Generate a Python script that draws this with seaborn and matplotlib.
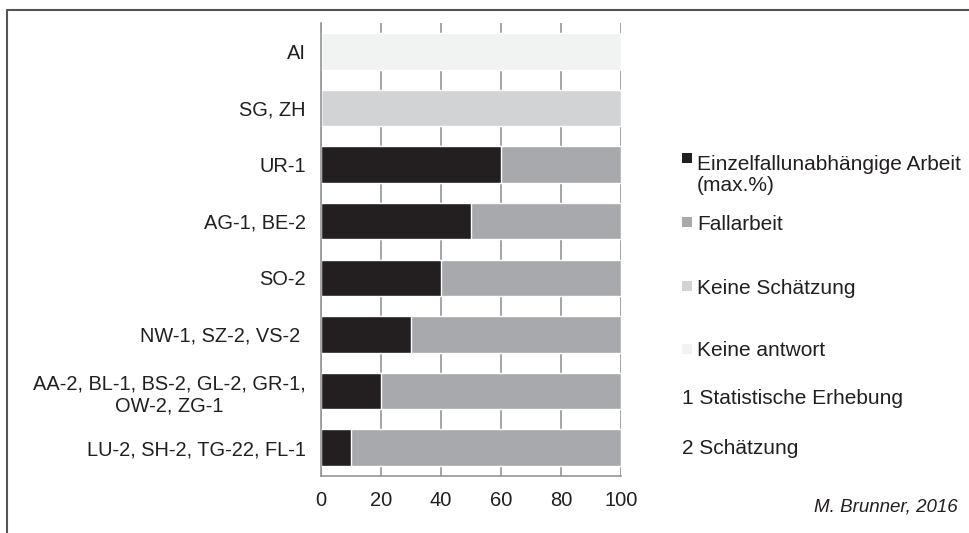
import numpy as np
import pandas as pd
import matplotlib
matplotlib.use('Agg')
import matplotlib.pyplot as plt
import seaborn as sns
from matplotlib.patches import Rectangle
from matplotlib.lines import Line2D

# data
categories = ['AI', 'SG, ZH', 'UR-1', 'AG-1, BE-2', 'SO-2', 'NW-1, SZ-2, VS-2 ',
              'AA-2, BL-1, BS-2, GL-2, GR-1,\nOW-2, ZG-1', 'LU-2, SH-2, TG-22, FL-1']
einzelfall = [0, 0, 60, 50, 40, 30, 20, 10]
fallarbeit = [0, 0, 40, 50, 60, 70, 80, 90]
keine_schaetzung = [0, 100, 0, 0, 0, 0, 0, 0]
keine_antwort = [100, 0, 0, 0, 0, 0, 0, 0]
legend_labels = ['Einzelfallunabhängige Arbeit\n(max.%)', 'Fallarbeit', 'Keine Schätzung', 'Keine antwort']
notes = ['1 Statistische Erhebung', '2 Schätzung']
source = 'M. Brunner, 2016'
xticks = [0, 20, 40, 60, 80, 100]

colors = ['#231f20', '#a7a9ac', '#d1d3d4', '#f1f2f2']

sns.set_style('white')
plt.rcParams['font.family'] = ['Liberation Sans', 'DejaVu Sans']
plt.rcParams['text.color'] = '#231f20'

df = pd.DataFrame({'Kanton': categories,
                   'einzel': einzelfall,
                   'stack': np.array(einzelfall) + np.array(fallarbeit),
                   'schaetzung': keine_schaetzung,
                   'antwort': keine_antwort})

W, H = 970, 533
fig = plt.figure(figsize=(W / 100, H / 100), dpi=100)
ax = fig.add_axes([321 / W, 1 - 476 / H, 300 / W, 453 / H])

bw = 0.645
# stacked bars: draw totals first, then overlay the black part
for col, c in [('stack', colors[1]), ('schaetzung', colors[2]),
               ('antwort', colors[3]), ('einzel', colors[0])]:
    sns.barplot(data=df, x=col, y='Kanton', order=categories, orient='h', color=c,
                saturation=1, width=bw, errorbar=None, ax=ax)

ax.set_xlim(0, 100)
ax.set_ylim(len(categories) - 0.5, -0.5)
ax.set_xticks(xticks)
ax.set_xlabel('')
ax.set_ylabel('')
ax.set_axisbelow(True)
ax.xaxis.grid(True, color='#939598', lw=1.2)
for s in ['top', 'right']:
    ax.spines[s].set_visible(False)
for s in ['left', 'bottom']:
    ax.spines[s].set_color('#939598')
    ax.spines[s].set_linewidth(1.2)
ax.tick_params(axis='x', length=0, pad=11, labelsize=14.5, labelcolor='#231f20')
ax.tick_params(axis='y', length=0, pad=11, labelsize=14.4, labelcolor='#231f20')
for lbl in ax.get_yticklabels():
    if '\n' in lbl.get_text():
        lbl.set_multialignment('center')

# legend drawn by hand to keep the uneven spacing of the original
def fx(px):
    return px / W

def fy(py):
    return 1 - py / H

marker_y = [158, 222, 286, 349]
text_y = [175, 224, 288, 351]
for lab, c, my, ty in zip(legend_labels, colors, marker_y, text_y):
    fig.add_artist(Rectangle((fx(682), fy(my + 5)), 10 / W, 10 / H, transform=fig.transFigure,
                             facecolor=c, edgecolor='none'))
    fig.text(fx(697), fy(ty), lab, fontsize=15, va='center', ha='left', linespacing=1.12)

for note, y in zip(notes, [398, 448]):
    fig.text(fx(682), fy(y), note, fontsize=15, va='center', ha='left')

fig.text(fx(958), fy(507), source, fontsize=13.5, style='italic', va='center', ha='right')

# outer frame (top and left only, as in the reference)
fig.add_artist(Line2D([fx(7.5), fx(7.5)], [0, fy(9.5)], transform=fig.transFigure,
                      color='#555555', lw=1.5))
fig.add_artist(Line2D([fx(7.5), 1], [fy(9.5), fy(9.5)], transform=fig.transFigure,
                      color='#555555', lw=1.5))

fig.savefig('out.png', dpi=100)
